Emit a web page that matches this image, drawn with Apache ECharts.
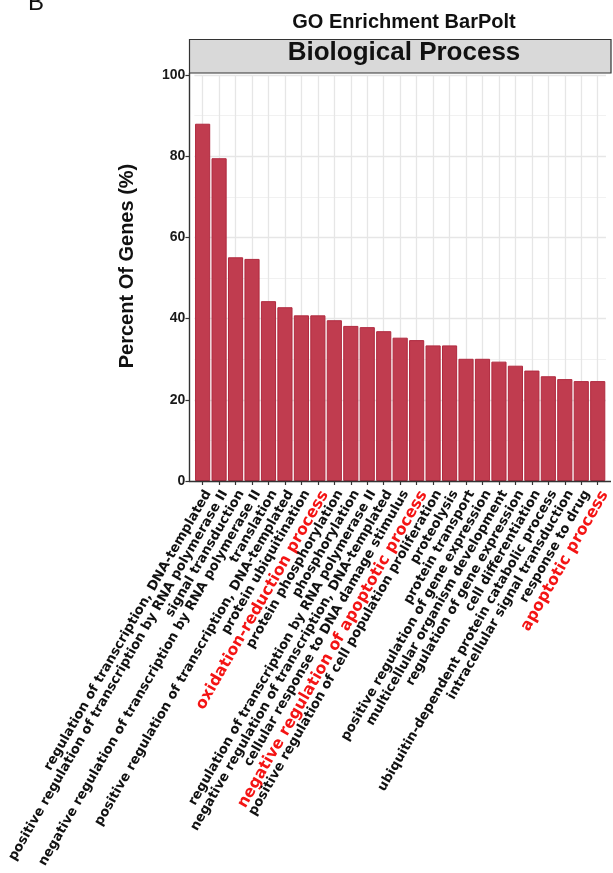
<!DOCTYPE html>
<html>
<head>
<meta charset="utf-8">
<script src="https://cdn.jsdelivr.net/npm/echarts@6/dist/echarts.min.js"></script>
<style>
  html, body { margin: 0; padding: 0; background: #fff; }
  #chart { width: 613px; height: 873px; }
</style>
</head>
<body>
<div id="chart"></div>
<script>
// GO terms, in the order they are plotted
const categories = [
  'regulation of transcription, DNA-templated',
  'positive regulation of transcription by RNA polymerase II',
  'signal transduction',
  'negative regulation of transcription by RNA polymerase II',
  'translation',
  'positive regulation of transcription, DNA-templated',
  'protein ubiquitination',
  'oxidation-reduction process',
  'protein phosphorylation',
  'phosphorylation',
  'regulation of transcription by RNA polymerase II',
  'negative regulation of transcription, DNA-templated',
  'cellular response to DNA damage stimulus',
  'negative regulation of apoptotic process',
  'positive regulation of cell population proliferation',
  'proteolysis',
  'protein transport',
  'positive regulation of gene expression',
  'multicellular organism development',
  'regulation of gene expression',
  'cell differentiation',
  'ubiquitin-dependent protein catabolic process',
  'intracellular signal transduction',
  'response to drug',
  'apoptotic process'
]

// percent of genes
const percents = [
  88.0, 79.5, 55.1, 54.7, 44.3, 42.8, 40.8, 40.8, 39.6, 38.2,
  37.9, 36.9, 35.3, 34.7, 33.4, 33.4, 30.1, 30.1, 29.4, 28.4,
  27.2, 25.8, 25.1, 24.6, 24.6
]

// terms printed in red
const highlighted = [
  'oxidation-reduction process',
  'negative regulation of apoptotic process',
  'apoptotic process'
]

const yMin = 0
const yMax = 100
const yStep = 20

const chart = echarts.init(document.getElementById('chart'))

// helper axis with half-category steps so the vertical grid sits on bar centres
const halfSteps = Array.from({ length: categories.length * 2 + 1 }, (_, i) => i)

const option = {
  animation: false,
  grid: { left: 194.4, right: 2.8, top: 75, bottom: 392 },
  xAxis: [
    {
      type: 'category',
      data: categories,
      axisLine: { show: false },
      axisTick: { show: true, alignWithLabel: true, length: 4, lineStyle: { color: '#333', width: 1.2 } },
      splitLine: { show: false },
      axisLabel: {
        interval: 0,
        rotate: 60,
        margin: 7,
        verticalAlign: 'top',
        formatter: v => highlighted.includes(v) ? `{r|${v}}` : `{b|${v}}`,
        rich: {
          b: { fontFamily: 'DejaVu Sans', fontWeight: 'bold', fontSize: 13.2, color: '#111', verticalAlign: 'top' },
          r: { fontFamily: 'DejaVu Sans', fontWeight: 'bold', fontSize: 15.8, color: '#f41414', verticalAlign: 'top' }
        }
      }
    },
    {
      type: 'category',
      data: halfSteps,
      boundaryGap: false,
      position: 'top',
      axisLine: { show: false },
      axisTick: { show: false },
      axisLabel: { show: false },
      splitLine: {
        show: true,
        interval: i => i % 2 === 1,
        lineStyle: { color: '#e6e6e6', width: 1.3 }
      }
    }
  ],
  yAxis: {
    type: 'value',
    min: yMin,
    max: yMax,
    interval: yStep,
    offset: 5,
    axisLine: { show: false },
    axisTick: { show: true, length: 4, lineStyle: { color: '#333', width: 1.2 } },
    axisLabel: {
      margin: 4,
      fontFamily: 'Liberation Sans',
      fontWeight: 'bold',
      fontSize: 14,
      color: '#1a1a1a'
    },
    splitLine: { show: true, lineStyle: { color: '#e6e6e6', width: 1.3 } },
    minorTick: { show: false, splitNumber: 2 },
    minorSplitLine: { show: true, lineStyle: { color: '#f1f1f1', width: 1 } }
  },
  series: [
    {
      type: 'bar',
      data: percents,
      barCategoryGap: '8%',
      itemStyle: {
        color: '#c03c4f',
        borderColor: '#b02a3f',
        borderWidth: 1
      }
    }
  ],
  graphic: [
    {
      type: 'text', left: 28, top: -9,
      style: { text: 'B', font: '24px "Liberation Sans"', fill: '#111' }
    },
    {
      type: 'text', x: 404, y: 22,
      style: {
        text: 'GO Enrichment BarPolt', font: 'bold 20px "Liberation Sans"',
        fill: '#111', align: 'center', verticalAlign: 'middle'
      }
    },
    {
      type: 'rect',
      shape: { x: 189.5, y: 39.5, width: 421.5, height: 33.5 },
      style: { fill: '#d9d9d9', stroke: '#333', lineWidth: 1.2 }
    },
    {
      type: 'text', x: 404, y: 53,
      style: {
        text: 'Biological Process', font: 'bold 26px "Liberation Sans"',
        fill: '#111', align: 'center', verticalAlign: 'middle'
      }
    },
    {
      type: 'text', x: 127, y: 266, rotation: Math.PI / 2,
      style: {
        text: 'Percent Of Genes (%)', font: 'bold 20px "Liberation Sans"',
        fill: '#111', align: 'center', verticalAlign: 'middle'
      }
    },
    {
      type: 'line', z: 10,
      shape: { x1: 189.5, y1: 73, x2: 189.5, y2: 482 },
      style: { stroke: '#333', lineWidth: 1.4 }
    },
    {
      type: 'line', z: 10,
      shape: { x1: 189, y1: 481.5, x2: 611, y2: 481.5 },
      style: { stroke: '#333', lineWidth: 1.4 }
    }
  ]
}

chart.setOption(option)
</script>
</body>
</html>
